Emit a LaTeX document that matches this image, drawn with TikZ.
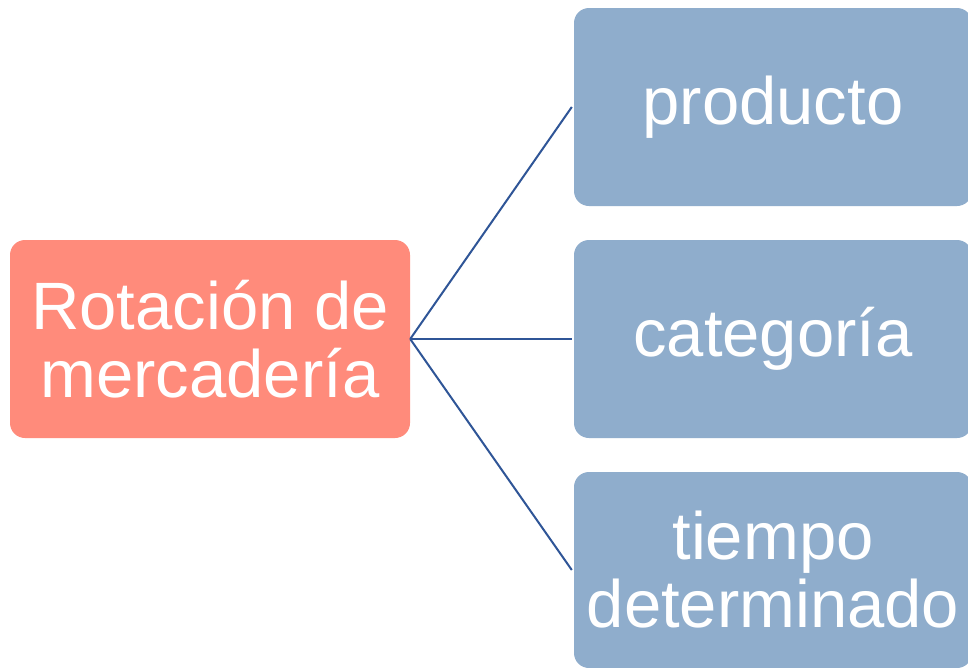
\documentclass[tikz,border=0pt]{standalone}
\usepackage{fontspec}
\setmainfont{Liberation Sans}
\definecolor{salmon}{RGB}{255,139,123}
\definecolor{boxblue}{RGB}{143,173,204}
\definecolor{linkblue}{RGB}{47,85,151}
\tikzset{
  box/.style={rectangle, rounded corners=15pt, draw=none, text=white, align=center,
    inner sep=0pt, minimum width=398pt, minimum height=198pt,
    font=\fontsize{67}{68}\selectfont},
  rootbox/.style={box, fill=salmon, minimum width=400pt},
  leafbox/.style={box, fill=boxblue},
  link/.style={draw=linkblue, line width=2pt}
}
\begin{document}
\begin{tikzpicture}[x=1pt,y=-1pt]
\useasboundingbox (0,0) rectangle (968,667);
\clip (0,0) rectangle (968,667);
\fill[white] (0,0) rectangle (968,667);
\node[rootbox] (root) at (210,339) {Rotación de\\mercadería};
\node[leafbox] (a) at (773,107) {producto};
\node[leafbox] (b) at (773,339) {categoría};
\node[leafbox, minimum height=196pt] (c) at (773,570) {tiempo\\determinado};
\draw[link] (root.east) -- ([xshift=-2pt]a.west);
\draw[link] (root.east) -- ([xshift=-2pt]b.west);
\draw[link] (root.east) -- ([xshift=-2pt]c.west);
\end{tikzpicture}
\end{document}
